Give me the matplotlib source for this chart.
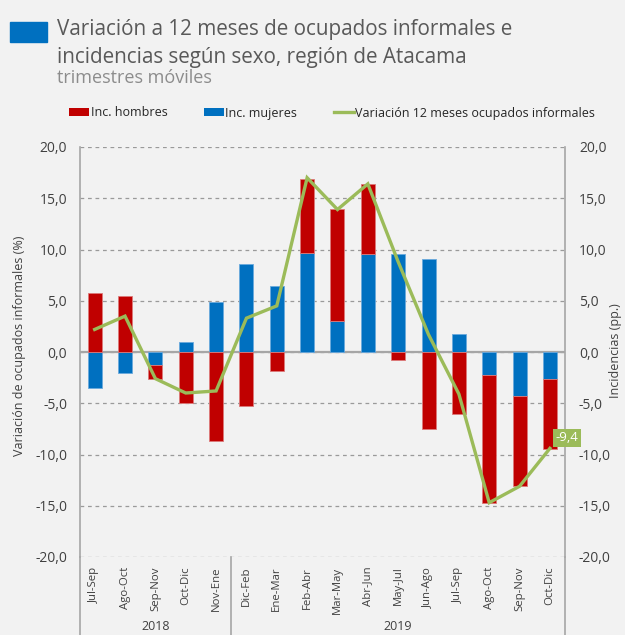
import matplotlib
matplotlib.use('Agg')
import matplotlib.pyplot as plt
from matplotlib.patches import Rectangle, Patch
from matplotlib.lines import Line2D
import matplotlib.transforms as mtransforms
import numpy as np

# ---------------- data ----------------
categories = ['Jul-Sep', 'Ago-Oct', 'Sep-Nov', 'Oct-Dic', 'Nov-Ene',
              'Dic-Feb', 'Ene-Mar', 'Feb-Abr', 'Mar-May', 'Abr-Jun', 'May-Jul',
              'Jun-Ago', 'Jul-Sep', 'Ago-Oct', 'Sep-Nov', 'Oct-Dic']
years = ['2018', '2019']
year_counts = [5, 11]
inc_hombres = [5.8, 5.5, -1.3, -5.0, -8.7, -5.3, -1.9, 7.2, 11.0, 6.8, -0.8,
               -7.5, -6.0, -12.5, -8.8, -6.9]
inc_mujeres = [-3.5, -2.0, -1.3, 1.0, 4.9, 8.6, 6.4, 9.7, 3.0, 9.6, 9.6,
               9.1, 1.8, -2.2, -4.3, -2.6]
variacion = [2.2, 3.5, -2.6, -4.0, -3.8, 3.3, 4.5, 17.0, 13.9, 16.4, 8.8,
             1.7, -4.1, -14.7, -13.1, -9.4]
yticks = [-20, -15, -10, -5, 0, 5, 10, 15, 20]
legend_labels = ['Inc. hombres', 'Inc. mujeres', 'Variación 12 meses ocupados informales']

# ---------------- style ----------------
plt.rcParams['font.family'] = ['Open Sans', 'DejaVu Sans']
BG = '#f2f2f2'
RED = '#c00000'
BLUE = '#0070c0'
GREEN = '#9bbb59'
AXC = '#a6a6a6'
TXT = '#404040'

W, H = 625, 635
fig = plt.figure(figsize=(W / 100, H / 100), dpi=100, facecolor=BG)
ax_left, ax_bot, ax_w, ax_h = 79.5, 78, 485.6, 410
ax = fig.add_axes([ax_left / W, ax_bot / H, ax_w / W, ax_h / H])
ax.set_facecolor(BG)

x = np.arange(len(categories))
muj = np.array(inc_mujeres)
hom = np.array(inc_hombres)
bottom_h = np.where(np.sign(hom) == np.sign(muj), muj, 0.0)

ax.bar(x, muj, width=0.46, color=BLUE, edgecolor='#6aa9dc', linewidth=0.6, zorder=3)
ax.bar(x, hom, bottom=bottom_h, width=0.46, color=RED, edgecolor='#dc7a7a',
       linewidth=0.6, zorder=3)
ax.plot(x, variacion, color=GREEN, lw=2.4, zorder=4, solid_joinstyle='miter')

ax.set_xlim(-0.5, len(categories) - 0.5)
ax.set_ylim(-20, 20)
ax.set_yticks(yticks)
ylabels = [f'{v:.1f}'.replace('.', ',') for v in yticks]
ax.set_yticklabels(ylabels)
ax.yaxis.grid(True, ls=(0, (3, 3)), color='#9a9a9a', lw=0.9)
ax.set_axisbelow(True)
ax.axhline(0, color=AXC, lw=1.6, zorder=2)

ax.set_xticks(x)
ax.set_xticklabels(categories, rotation=90, fontsize=8.2, color=TXT)
ax.tick_params(axis='x', length=0, pad=7)
ax.tick_params(axis='y', length=0, pad=9, labelsize=10, labelcolor=TXT)

for s in ['top', 'bottom']:
    ax.spines[s].set_visible(False)
for s in ['left', 'right']:
    ax.spines[s].set_color(AXC)
    ax.spines[s].set_linewidth(1.2)

ax2 = ax.twinx()
ax2.set_ylim(-20, 20)
ax2.set_yticks(yticks)
ax2.set_yticklabels(ylabels)
ax2.tick_params(axis='y', length=0, pad=10, labelsize=10, labelcolor=TXT)
for s in ax2.spines.values():
    s.set_visible(False)

# extended separators below plot
ext = -ax_bot / ax_h
bounds = np.cumsum([0] + year_counts)
for b in bounds:
    xf = b / len(categories)
    ax.add_line(Line2D([xf, xf], [0, ext], transform=ax.transAxes, color=AXC,
                       lw=1.2, clip_on=False))
trans = mtransforms.blended_transform_factory(ax.transData, ax.transAxes)
for i, yr in enumerate(years):
    cx = (bounds[i] + bounds[i + 1] - 1) / 2
    ax.text(cx, -(627 - 557) / ax_h, yr, transform=trans, ha='center', va='center',
            fontsize=9, color=TXT)

# last-point label
ax.annotate(f'{variacion[-1]:.1f}'.replace('.', ','), xy=(x[-1], variacion[-1]),
            xytext=(6, 4), textcoords='offset pixels', ha='left', va='bottom',
            color='white', fontsize=9.5,
            bbox=dict(boxstyle='square,pad=0.2', fc=GREEN, ec='none'),
            zorder=6, annotation_clip=False)

# axis titles
fig.text(20 / W, 1 - 346 / H, 'Variación de ocupados informales (%)', rotation=90,
         ha='center', va='center', fontsize=9, color=TXT)
fig.text(616 / W, 1 - 351 / H, 'Incidencias (pp.)', rotation=90,
         ha='center', va='center', fontsize=9, color=TXT)

# title block
fig.patches.append(Rectangle((10 / W, 1 - 42 / H), 37 / W, 20 / H, color=BLUE,
                             transform=fig.transFigure, figure=fig))
fig.text(57 / W, 1 - 30 / H, 'Variación a 12 meses de ocupados informales e',
         va='center', ha='left', fontsize=14.9, color='#595959')
fig.text(57 / W, 1 - 57 / H, 'incidencias según sexo, región de Atacama',
         va='center', ha='left', fontsize=14.9, color='#595959')
fig.text(57 / W, 1 - 78 / H, 'trimestres móviles',
         va='center', ha='left', fontsize=13, color='#8c8c8c')

# legend
handles = [Patch(facecolor=RED, edgecolor='none'),
           Patch(facecolor=BLUE, edgecolor='none'),
           Line2D([], [], color=GREEN, lw=2.4)]
fig.legend(handles, legend_labels, loc='center', bbox_to_anchor=(332 / W, 1 - 113 / H),
           ncol=3, frameon=False, fontsize=9, handlelength=1.6, handleheight=0.55,
           handletextpad=0.15, columnspacing=2.9, labelcolor='#262626')

fig.savefig('out.png', dpi=100, facecolor=BG)
